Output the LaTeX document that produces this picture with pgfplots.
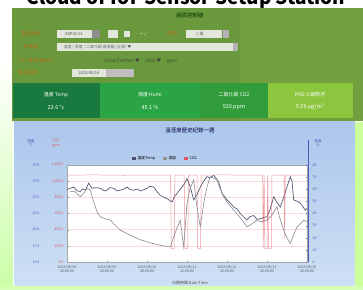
\documentclass[border=0pt]{standalone}
\usepackage{fontspec}
\setmainfont{Noto Sans CJK TC}
\usepackage{pgfplots}
\pgfplotsset{compat=1.18}
\definecolor{panelgreen}{RGB}{106,152,60}
\definecolor{panelgreenR}{RGB}{114,158,62}
\definecolor{lblorange}{RGB}{178,112,30}
\definecolor{boxA}{RGB}{24,122,62}
\definecolor{boxB}{RGB}{42,164,68}
\definecolor{boxC}{RGB}{48,156,58}
\definecolor{boxD}{RGB}{140,198,62}
\definecolor{skyA}{RGB}{172,198,236}
\definecolor{skyB}{RGB}{206,224,244}
\definecolor{tempc}{RGB}{72,82,112}
\definecolor{humc}{RGB}{145,145,150}
\definecolor{co2c}{RGB}{222,86,96}
\definecolor{axblue}{RGB}{70,90,190}
\definecolor{fieldw}{RGB}{226,230,220}
\pgfplotsset{
  base/.style={
    scale only axis, width=240bp, height=97bp,
    at={(67bp,28bp)}, anchor=south west,
    xmin=0, xmax=168,
    /pgf/number format/assume math mode=true,
    tick label style={font=\fontsize{3.6}{4}\selectfont},
    major tick length=1.5bp,
  }
}
\begin{document}
\begin{tikzpicture}
\begin{scope}[x=1bp,y=1bp]
\useasboundingbox (0,0) rectangle (363,290);
\fill[white] (0,0) rectangle (363,290);
\shade[top color=white,bottom color=green!45!lime!35] (0,0) rectangle (13,230);
\node[font=\fontsize{19}{20}\selectfont\bfseries,text=black] at (186,291) {Cloud of IoT Sensor Setup Station};
% green panel
\fill[panelgreen] (12,169) rectangle (363,282);
\fill[panelgreenR] (240,169) rectangle (363,282);
\node[font=\fontsize{5.5}{6}\selectfont,text=black!80!green] at (190,275) {網頁控制器};
% row1
\node[font=\fontsize{5}{6}\selectfont,text=lblorange] at (31,256) {監測站點};
\fill[fieldw] (57,252) rectangle (92,260);
\node[font=\fontsize{4}{5}\selectfont,text=black!70] at (74,256) {ESP32-01};
\fill[black!45] (92,252) rectangle (100,260);
\fill[fieldw] (108,252) rectangle (118,260);
\fill[fieldw] (124,253) rectangle (130,259);
\node[font=\fontsize{4}{5}\selectfont,text=fieldw] at (143,256) {→ ✓};
\node[font=\fontsize{5}{6}\selectfont,text=lblorange] at (172,256) {時間};
\fill[fieldw] (186,252) rectangle (222,260);
\node[font=\fontsize{4}{5}\selectfont,text=black!60] at (200,256) {1 週};
\fill[black!30] (223,252) rectangle (229,260);
% row2
\node[font=\fontsize{5}{6}\selectfont,text=lblorange] at (31,243) {感測器};
\fill[fieldw] (57,239) rectangle (233,247);
\node[font=\fontsize{4}{5}\selectfont,text=black!60,anchor=west] at (60,243) {溫度 / 濕度 / 二氧化碳 感測器 (全部) ▼};
\fill[black!30] (233,239) rectangle (238,247);
% row3
\node[font=\fontsize{5}{6}\selectfont,text=lblorange,anchor=west] at (14,229) {CO2 警戒值設定：};
\node[font=\fontsize{4.6}{6}\selectfont,text=black!75,anchor=west] at (100,229) {Close/Confirm ▼ \quad 1000 ▼ \quad ppm};
% row4
\node[font=\fontsize{5}{6}\selectfont,text=lblorange,anchor=west] at (14,217) {查詢日期：};
\fill[fieldw] (72,213) rectangle (106,221);
\fill[black!25] (106,213) rectangle (134,221);
\node[font=\fontsize{4}{5}\selectfont,text=black!70] at (89,217) {2023/05/14};
% boxes
\fill[boxA] (13,172) rectangle (100,207);
\fill[boxB] (100,172) rectangle (200,207);
\fill[boxC] (200,172) rectangle (268,207);
\fill[boxD] (268,172) rectangle (353,207);
\foreach \cx/\la/\lb in {56/{溫度 Temp}/{23.6 °c},150/{濕度 Humi}/{45.1 \%},234/{二氧化碳 CO2}/{520 ppm},310/{PM2.5 細懸浮}/{5.00 μg/m³}}{
  \node[font=\fontsize{5}{6}\selectfont,text=white] at (\cx,195) {\la};
  \node[font=\fontsize{5.5}{6}\selectfont,text=white] at (\cx,183) {\lb};
}
% chart panel
\fill[green!40!lime!30] (0,0) rectangle (363,4);
\shade[top color=skyA,bottom color=skyB] (14,4) rectangle (355,168);
\fill[green!35!lime!40] (355,4) rectangle (363,168);
\node[font=\fontsize{5.5}{6}\selectfont,text=black!75!blue] at (190,160) {溫溼度歷史紀錄一週};
\fill[white] (67,28) rectangle (307,125);
% unit labels
\node[font=\fontsize{3.6}{4.2}\selectfont,text=axblue,align=center] at (31,147) {溫度\\°C};
\node[font=\fontsize{3.6}{4.2}\selectfont,text=co2c,align=center] at (56,147) {CO2\\ppm};
\node[font=\fontsize{3.6}{4.2}\selectfont,text=axblue,align=center] at (318,147) {濕度\\\%};
\draw[axblue,line width=1.6bp] (308.5,28) -- (308.5,150);
\node[font=\fontsize{4}{5}\selectfont,text=black!70] at (190,7) {日期時間 Date Time};
\end{scope}

% temperature axis
\begin{axis}[base,
  ymin=15, ymax=30, ytick={15,17.5,...,30},
  axis line style={black!35},
  yticklabel style={text=axblue, xshift=-24bp, /pgf/number format/fixed, /pgf/number format/fixed zerofill, /pgf/number format/precision=1},
  ymajorgrids, grid style={co2c!22},
  xtick={0,28,56,84,112,140,168},
  xticklabels={{2023/05/08\\00:00:00},{2023/05/09\\04:00:00},{2023/05/10\\08:00:00},{2023/05/11\\12:00:00},{2023/05/12\\16:00:00},{2023/05/13\\20:00:00},{2023/05/15\\00:00:00}},
  xticklabel style={align=center, text=black!65},
  ytick pos=left,
  legend style={at={(0.41,1.0)}, anchor=south, draw=none, fill=none, legend columns=3, font=\fontsize{3.8}{4}\selectfont, /tikz/every even column/.append style={column sep=6bp}},
  legend image code/.code={\fill[#1] (0bp,-1.2bp) rectangle (3bp,1.2bp);},
]
\addplot[tempc, line width=0.65bp] coordinates {
(0,26.2)(2.3,26.4)(4.7,26.6)(7,26.0)(9.3,25.9)(11,26.3)(12.8,26.1)(15.2,27.2)(17.5,26.4)(20,26.5)(23.3,26.4)(26,26.0)(28,26.1)(30,26.5)(32.7,26.4)(35,26.0)(37.3,26.1)(40,26.3)(42,26.6)(44,26.2)(46.7,26.1)(49,26.3)(51.3,26.0)(54,26.2)(56,26.4)(58,26.7)(60.7,26.6)(63,25.9)(65.3,25.3)(68,25.0)(70,24.8)(73.5,24.3)(75,25.0)(77,25.6)(80.5,26.6)(82,27.0)(84,27.9)(86.3,26.6)(88.7,24.6)(91,25.4)(93.3,26.6)(96,27.6)(98,28.2)(100,28.0)(102.7,28.4)(104.5,27.9)(106.2,27.4)(108.5,25.6)(110,25.2)(112,24.6)(114,24.2)(116.7,23.5)(119,23.2)(121.3,22.5)(123.5,22.0)(126,21.5)(128,22.0)(130.7,22.2)(133,21.6)(135.3,21.7)(138,21.9)(140,22.0)(142,23.0)(144.7,25.1)(147,24.2)(149.3,23.5)(152,25.2)(154,26.6)(156.3,28.2)(157.5,27.5)(158.7,24.6)(161,24.4)(163.3,24.1)(165,23.6)(166.8,23.0)(168,23.3)
};
\addlegendentry{溫度Temp}
\addlegendimage{humc}
\addlegendentry{濕度}
\addlegendimage{co2c}
\addlegendentry{CO2}
\end{axis}

% CO2 axis
\begin{axis}[base,
  ymin=0, ymax=1200, ytick={0,200,...,1200},
  axis y line*=left, axis x line=none,
  y axis line style={draw=none}, major tick style={draw=none},
  yticklabel style={text=co2c, /pgf/number format/fixed, /pgf/number format/fixed zerofill, /pgf/number format/precision=1},
]
\addplot[co2c, line width=0.5bp, opacity=0.6] coordinates {
(0,1075)(20,1077)(40,1073)(60,1076)(72.5,1075)(73,170)(75,170)(75.5,1075)(82,1075)(82.5,170)(84.5,170)(85,1075)(91,1075)(91.5,170)(93.5,170)(94,1075)(110,1077)(130,1074)(137,1075)(137.3,170)(138,1075)(138.5,170)(140,170)(140.5,1075)(141,170)(143,170)(143.5,1075)(152,1075)(152.3,300)(152.8,1075)(168,1075)
};
\end{axis}

% humidity axis
\begin{axis}[base,
  ymin=0, ymax=80, ytick={0,10,...,80},
  axis y line*=right, axis x line=none,
  y axis line style={draw=none}, major tick style={axblue},
  yticklabel style={text=axblue, xshift=2bp},
]
\addplot[humc, line width=0.65bp] coordinates {
(2.3,57.9)(5,58.5)(9.3,53.8)(12,57)(14,60.7)(16.3,59.3)(18,52)(19.8,45.5)(21.5,40)(23.3,37.2)(26,36)(30.3,34.5)(34,30)(37.3,26.2)(42,23.5)(46.7,20.7)(51,18.5)(56,16.6)(61,15)(65.3,13.8)(69,13)(72.3,12.4)(74.7,20.7)(77,28)(79.3,34.5)(81.7,12.4)(84,48.3)(86,60)(88.7,67.6)(91,45)(93.3,29)(95.7,48.3)(98,62)(100.3,70.3)(103,69)(105,67.6)(107,61)(109.7,53.8)(113,48)(116.7,42.8)(121,37)(126,29)(130,32)(133,34.5)(136,33)(140,34.5)(143,38)(147,45.5)(149,36)(151.7,26.2)(154,20)(156.3,15.2)(158.5,22)(161,29)(163,31)(165.7,34.5)(168,33)
};
\end{axis}
\end{tikzpicture}
\end{document}
